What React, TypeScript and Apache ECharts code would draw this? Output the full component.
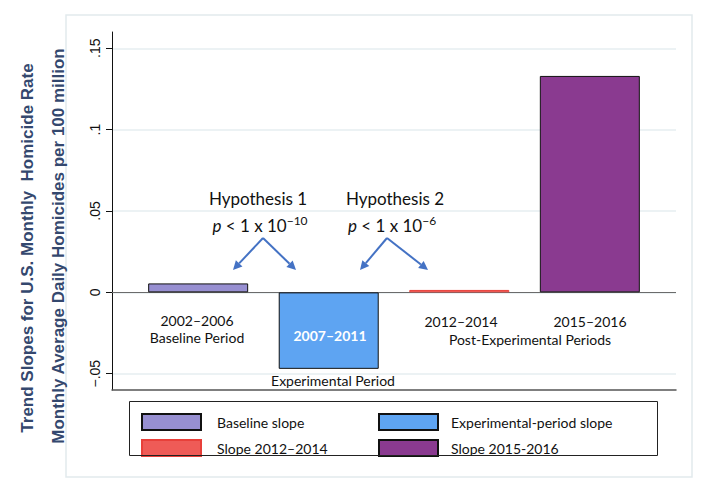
import React, { useEffect, useRef } from "react";
import * as echarts from "echarts";

const seriesNames = ["Baseline slope", "Experimental-period slope", "Slope 2012–2014", "Slope 2015-2016"];
const positions = [1, 2, 3, 4];
const slopes = [0.0055, -0.047, 0.0015, 0.133];
const fills = ["#978fd1", "#5ea4f2", "#ef5b57", "#8a3a90"];
const borders = ["#111111", "#111111", "#e8403a", "#111111"];
const yTicks = [-0.05, 0, 0.05, 0.1, 0.15];
const yTitle1 = "Trend Slopes for U.S. Monthly  Homicide Rate";
const yTitle2 = "Monthly Average Daily Homicides per 100 million";

const FONT = "Lato, 'Open Sans', sans-serif";

function arrow(x1: number, y1: number, x2: number, y2: number, color: string) {
  const dx = x2 - x1, dy = y2 - y1;
  const len = Math.sqrt(dx * dx + dy * dy);
  const ux = dx / len, uy = dy / len;
  const hl = 9, hw = 4.5;
  const bx = x2 - ux * hl, by = y2 - uy * hl;
  return [
    { type: "line", z: 100, shape: { x1, y1, x2: bx, y2: by }, style: { stroke: color, lineWidth: 2 } },
    {
      type: "polygon",
      z: 100,
      shape: { points: [[x2, y2], [bx - uy * hw, by + ux * hw], [bx + uy * hw, by - ux * hw]] },
      style: { fill: color },
    },
  ];
}

function fmtTick(v: number) {
  if (v === 0) return "0";
  const s = String(Math.round(Math.abs(v) * 1000) / 1000).replace(/^0/, "");
  return (v < 0 ? "−" : "") + s;
}

export default function App() {
  const ref = useRef<HTMLDivElement>(null);
  useEffect(() => {
    if (!ref.current) return;
    const chart = echarts.init(ref.current, undefined, { renderer: "svg" });
    const txt = (text: string, x: number, y: number, extra: any = {}) => ({
      type: "text",
      z: 100,
      x,
      y,
      style: {
        text,
        fill: "#111",
        font: `14px ${FONT}`,
        align: "center",
        verticalAlign: "middle",
        ...extra,
      },
    });
    const pRich = {
      p: { fontStyle: "italic", fontSize: 17, fontFamily: FONT, lineHeight: 22, fill: "#111" },
      m: { fontSize: 17, fontFamily: FONT, lineHeight: 22, fill: "#111" },
      s: { fontSize: 12, fontFamily: FONT, lineHeight: 9, verticalAlign: "top", fill: "#111" },
    };
    const arrowColor = "#4472c4";
    const series: any[] = seriesNames.map((name, i) => ({
      name,
      type: "bar",
      stack: "all",
      barWidth: 100,
      data: [[positions[i], slopes[i]]],
      itemStyle: { color: fills[i], borderColor: borders[i], borderWidth: 1 },
      z: 3,
    }));
    series[0].markLine = {
      silent: true,
      symbol: "none",
      label: { show: false },
      lineStyle: { color: "#6b6b6b", width: 1, type: "solid" },
      data: [{ yAxis: 0 }],
      z: 2,
    };
    const legendBase = {
      orient: "vertical",
      itemWidth: 59,
      itemHeight: 16,
      itemGap: 8,
      icon: "rect",
      selectedMode: false,
      textStyle: { fontFamily: FONT, fontSize: 14, color: "#111" },
    };
    const titleFont = "bold 17px 'Liberation Sans', Arial, sans-serif";
    chart.setOption({
      animation: false,
      backgroundColor: "#ffffff",
      grid: { left: 112, right: 44, top: 32, bottom: 101 },
      xAxis: {
        type: "value",
        min: 0.34,
        max: 4.66,
        axisLine: { show: true, onZero: false, lineStyle: { color: "#555", width: 1.5 } },
        axisTick: { show: false },
        axisLabel: { show: false },
        splitLine: { show: false },
      },
      yAxis: {
        type: "value",
        min: -0.06,
        max: 0.16,
        axisLine: { show: true, lineStyle: { color: "#111", width: 1 } },
        axisTick: { show: true, length: 6, customValues: yTicks, lineStyle: { color: "#111" } },
        axisLabel: {
          customValues: yTicks,
          rotate: 90,
          margin: 10,
          color: "#111",
          fontFamily: "'Liberation Sans', Arial, sans-serif",
          fontSize: 14,
          formatter: (v: number) => fmtTick(v),
        },
        splitLine: { show: true, lineStyle: { color: "#e6eef0", width: 1.5 } },
      },
      legend: [
        {
          ...legendBase,
          left: 136,
          top: 408,
          data: [seriesNames[0], seriesNames[2]],
          textStyle: { ...legendBase.textStyle, padding: [0, 0, 0, 11] },
        },
        {
          ...legendBase,
          left: 373,
          top: 408,
          data: [seriesNames[1], seriesNames[3]],
          textStyle: { ...legendBase.textStyle, padding: [0, 0, 0, 8] },
        },
      ],
      graphic: [
        { type: "rect", z: 100, shape: { x: 66, y: 15, width: 626, height: 462 }, style: { fill: "none", stroke: "#e2eaed", lineWidth: 1.5 }, silent: true },
        { type: "rect", z: 100, shape: { x: 129.5, y: 401.5, width: 528, height: 54 }, style: { fill: "none", stroke: "#222", lineWidth: 1 }, silent: true },
        {
          type: "text",
          z: 100,
          x: 27,
          y: 248,
          rotation: Math.PI / 2,
          style: { text: yTitle1, fill: "#34486e", font: titleFont, align: "center", verticalAlign: "middle" },
        },
        {
          type: "text",
          z: 100,
          x: 58,
          y: 246,
          rotation: Math.PI / 2,
          style: { text: yTitle2, fill: "#34486e", font: titleFont, align: "center", verticalAlign: "middle" },
        },
        txt("2002–2006", 197, 320),
        txt("Baseline Period", 197, 337),
        txt("2007–2011", 330, 335, { fill: "#ffffff", font: `bold 14px ${FONT}` }),
        txt("Experimental Period", 333, 380),
        txt("2012–2014", 461, 321),
        txt("2015–2016", 590, 321),
        txt("Post-Experimental Periods", 530, 339),
        txt("Hypothesis 1", 258, 198, { font: `17px ${FONT}` }),
        txt("Hypothesis 2", 395, 198, { font: `17px ${FONT}` }),
        {
          type: "text",
          z: 100,
          x: 260,
          y: 225,
          style: { text: "{p|p}{m| < 1 x 10}{s|−10}", rich: pRich, align: "center", verticalAlign: "middle" },
        },
        {
          type: "text",
          z: 100,
          x: 392,
          y: 225,
          style: { text: "{p|p}{m| < 1 x 10}{s|−6}", rich: pRich, align: "center", verticalAlign: "middle" },
        },
        ...arrow(263, 238, 233, 270, arrowColor),
        ...arrow(263, 238, 296, 270, arrowColor),
        ...arrow(387, 238, 360, 270, arrowColor),
        ...arrow(387, 238, 428, 270, arrowColor),
      ],
      series,
    });
    return () => chart.dispose();
  }, []);
  return <div ref={ref} style={{ position: "fixed", left: 0, top: 0, width: 720, height: 491 }} />;
}
